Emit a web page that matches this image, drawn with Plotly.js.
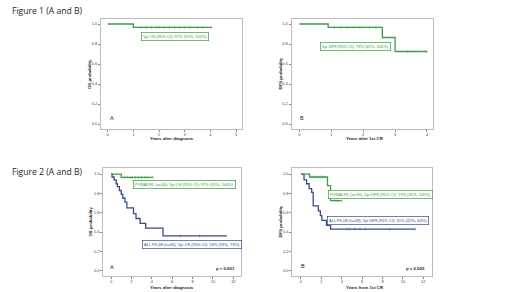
<!DOCTYPE html>
<html><head><meta charset="utf-8">
<script src="https://cdn.plot.ly/plotly-3.0.1.min.js"></script>
<style>html,body{margin:0;padding:0;background:#fff}#c{width:520px;height:292px}</style>
</head><body><div id="c"></div>
<script>
// ---- Data ----
// Figure 1A: OS, PONALFIL
const os1Times = [0, 1.0];
const os1Surv = [1.0, 0.967];
const os1End = 4.05;
const os1Cens = [1.3, 1.5, 1.7, 1.9, 2.0, 2.2, 2.4, 2.6, 2.8, 3.0, 3.2, 3.5, 3.7, 4.05];
// Figure 1B: DFS, PONALFIL
const dfs1Times = [0, 0.9, 2.6, 3.0];
const dfs1Surv = [1.0, 0.967, 0.865, 0.725];
const dfs1End = 4.0;
const dfs1Cens = [1.1, 1.3, 1.5, 1.7, 1.9, 2.0, 2.2, 2.4, 3.4, 4.0];
// Figure 2A: OS
const os2GreenTimes = [0, 1.0];
const os2GreenSurv = [1.0, 0.967];
const os2GreenEnd = 4.1;
const os2GreenCens = [1.3, 1.6, 1.9, 2.1, 2.4, 2.7, 3.0, 3.3, 3.6, 4.1];
const os2BlueTimes = [0, 0.1, 0.3, 0.5, 0.62, 0.82, 1.0, 1.15, 1.37, 1.55, 2.2, 2.45, 2.85, 3.4, 5.1];
const os2BlueSurv = [1.0, 0.97, 0.94, 0.90, 0.87, 0.83, 0.79, 0.75, 0.71, 0.65, 0.59, 0.54, 0.49, 0.44, 0.36];
const os2BlueEnd = 11.3;
const os2BlueCens = [6.8, 8.7, 11.3];
// Figure 2B: DFS
const dfs2GreenTimes = [0, 0.85, 2.6, 2.9];
const dfs2GreenSurv = [1.0, 0.97, 0.88, 0.725];
const dfs2GreenEnd = 4.0;
const dfs2GreenCens = [1.1, 1.3, 1.5, 1.7, 1.9, 2.1, 2.3, 3.3, 3.6, 4.0];
const dfs2BlueTimes = [0, 0.3, 0.55, 0.8, 1.05, 1.2, 1.7, 1.9, 2.05, 2.5, 2.9];
const dfs2BlueSurv = [1.0, 0.94, 0.90, 0.85, 0.81, 0.67, 0.62, 0.57, 0.52, 0.47, 0.43];
const dfs2BlueEnd = 11.2;
const dfs2BlueCens = [4.5, 4.8, 5.3, 5.8, 6.3, 8.7, 11.2];

const yTicks = [0.0, 0.2, 0.4, 0.6, 0.8, 1.0];
const xTicks1A = [0, 1, 2, 3, 4, 5];
const xTicks1B = [0, 1, 2, 3, 4];
const xTicks2 = [0, 2, 4, 6, 8, 10, 12];

const labels = {
  t1: 'Figure 1 (A and B)',
  t2: 'Figure 2 (A and B)',
  box1A: '5yr OS (95% CI): 97% (91%, 100%)',
  box1B: '5yr DFS (95% CI): 73% (41%, 100%)',
  box2AG: 'PONALFIL (n=30); 5yr OS (95% CI): 97% (91%, 100%)',
  box2AB: 'ALL Ph-08 (n=30); 5yr OS (95% CI): 53% (33%, 73%)',
  box2BG: 'PONALFIL (n=30); 5yr DFS (95% CI): 73% (41%, 100%)',
  box2BB: 'ALL Ph-08 (n=28); 5yr DFS (95% CI): 41% (22%, 64%)',
  p2A: 'p < 0.001', p2B: 'p = 0.005'
};

// ---- Styling ----
const GREEN = '#3e9b45', BLUE = '#3d4a86';
const W = 520, H = 292;
const PX = x => x / W, PY = y => 1 - y / H;

function stepTrace(times, surv, end, color, xa, ya) {
  const xs = times.concat([end]);
  const ys = surv.concat([surv[surv.length - 1]]);
  return {x: xs, y: ys, xaxis: xa, yaxis: ya, type: 'scatter', mode: 'lines',
    line: {shape: 'hv', color: color, width: 1.3}, hoverinfo: 'skip', showlegend: false};
}
function survAt(times, surv, t) {
  let s = surv[0];
  for (let i = 0; i < times.length; i++) if (times[i] <= t) s = surv[i];
  return s;
}
function censTrace(times, surv, cens, color, xa, ya) {
  return {x: cens, y: cens.map(t => survAt(times, surv, t)), xaxis: xa, yaxis: ya,
    type: 'scatter', mode: 'markers',
    marker: {symbol: 'line-ns', size: 2, line: {color: color, width: 0.5}},
    hoverinfo: 'skip', showlegend: false};
}

const data = [
  stepTrace(os1Times, os1Surv, os1End, GREEN, 'x', 'y'),
  censTrace(os1Times, os1Surv, os1Cens, GREEN, 'x', 'y'),
  stepTrace(dfs1Times, dfs1Surv, dfs1End, GREEN, 'x2', 'y2'),
  censTrace(dfs1Times, dfs1Surv, dfs1Cens, GREEN, 'x2', 'y2'),
  stepTrace(os2BlueTimes, os2BlueSurv, os2BlueEnd, BLUE, 'x3', 'y3'),
  censTrace(os2BlueTimes, os2BlueSurv, os2BlueCens, BLUE, 'x3', 'y3'),
  stepTrace(os2GreenTimes, os2GreenSurv, os2GreenEnd, GREEN, 'x3', 'y3'),
  censTrace(os2GreenTimes, os2GreenSurv, os2GreenCens, GREEN, 'x3', 'y3'),
  stepTrace(dfs2BlueTimes, dfs2BlueSurv, dfs2BlueEnd, BLUE, 'x4', 'y4'),
  censTrace(dfs2BlueTimes, dfs2BlueSurv, dfs2BlueCens, BLUE, 'x4', 'y4'),
  stepTrace(dfs2GreenTimes, dfs2GreenSurv, dfs2GreenEnd, GREEN, 'x4', 'y4'),
  censTrace(dfs2GreenTimes, dfs2GreenSurv, dfs2GreenCens, GREEN, 'x4', 'y4')
];

function xax(l, r, range, ticks, anchor) {
  return {domain: [PX(l), PX(r)], range: range, anchor: anchor, tickvals: ticks,
    ticktext: ticks.map(String), showgrid: false, zeroline: false, showline: true, mirror: true,
    linecolor: '#bdbdbd', linewidth: 1, ticks: 'outside', ticklen: 2, tickcolor: '#888',
    tickfont: {size: 4, color: '#444', family: 'Liberation Sans'}, fixedrange: true};
}
function yax(t, b, range, anchor) {
  return {domain: [PY(b), PY(t)], range: range, anchor: anchor, tickvals: yTicks,
    ticktext: yTicks.map(v => v.toFixed(1)), showgrid: false, zeroline: false, showline: true, mirror: true,
    linecolor: '#bdbdbd', linewidth: 1, ticks: 'outside', ticklen: 2, tickcolor: '#888',
    tickfont: {size: 4, color: '#444', family: 'Liberation Sans'}, fixedrange: true};
}

const FONT = 'Liberation Sans';
function ann(text, x, y, opts) {
  return Object.assign({text: text, x: PX(x), y: PY(y), xref: 'paper', yref: 'paper',
    showarrow: false, xanchor: 'center', yanchor: 'middle',
    font: {size: 4, color: '#333', family: FONT}}, opts || {});
}
function box(text, x, y, color) {
  return ann(text, x, y, {font: {size: 4, color: color, family: FONT},
    bordercolor: color, borderwidth: 0.7, borderpad: 1.3, bgcolor: '#fbfdfb'});
}

const TITLEFONT = {size: 8.6, color: '#1e1e1e', family: 'Open Sans'};
const AXT = {size: 4.3, color: '#222', family: FONT};
const annotations = [
  ann(labels.t1, 9.5, 11.5, {xanchor: 'left', font: TITLEFONT}),
  ann(labels.t2, 9.5, 171.5, {xanchor: 'left', font: TITLEFONT}),
  // axis titles
  ann('<b>Years after diagnosis</b>', 172, 138.5, {font: AXT}),
  ann('<b>OS probability</b>', 89, 74, {textangle: -90, font: AXT}),
  ann('<b>Years after 1st CR</b>', 365, 138.5, {font: AXT}),
  ann('<b>DFS probability</b>', 279.5, 74, {textangle: -90, font: AXT}),
  ann('<b>Years after diagnosis</b>', 172, 287.3, {font: AXT}),
  ann('<b>OS probability</b>', 90, 221.5, {textangle: -90, font: AXT}),
  ann('<b>Years from 1st CR</b>', 365, 287.3, {font: AXT}),
  ann('<b>DFS probability</b>', 280, 221.5, {textangle: -90, font: AXT}),
  // panel letters
  ann('A', 112.3, 118.3, {font: {size: 5.5, color: '#222', family: FONT}}),
  ann('B', 302.3, 117.5, {font: {size: 5.5, color: '#222', family: FONT}}),
  ann('A', 111.7, 267.3, {font: {size: 5.5, color: '#222', family: FONT}}),
  ann('B', 303, 265.5, {font: {size: 5.5, color: '#222', family: FONT}}),
  // p values
  ann('<b>' + labels.p2A + '</b>', 225, 268.3, {font: AXT}),
  ann('<b>' + labels.p2B + '</b>', 415, 268.3, {font: AXT}),
  // boxed labels
  box(labels.box1A, 174.5, 36.5, GREEN),
  box(labels.box1B, 355.5, 46.5, GREEN),
  box(labels.box2AG, 184, 184.7, GREEN),
  box(labels.box2AB, 191.7, 244.5, BLUE),
  box(labels.box2BG, 380, 194, GREEN),
  box(labels.box2BB, 378, 220, BLUE)
];

const layout = {
  width: W, height: H, margin: {l: 0, r: 0, t: 0, b: 0},
  paper_bgcolor: '#fff', plot_bgcolor: '#fff', showlegend: false,
  font: {family: FONT},
  xaxis: xax(101, 242, [-0.26, 5.23], xTicks1A, 'y'),
  yaxis: yax(18.5, 128.5, [-0.045, 1.055], 'x'),
  xaxis2: xax(291.5, 433, [-0.25, 4.19], xTicks1B, 'y2'),
  yaxis2: yax(18.5, 128.5, [-0.045, 1.055], 'x2'),
  xaxis3: xax(103.3, 241, [-0.76, 12.75], xTicks2, 'y3'),
  yaxis3: yax(168.3, 275.5, [-0.05, 1.06], 'x3'),
  xaxis4: xax(292.3, 431.7, [-0.85, 12.82], xTicks2, 'y4'),
  yaxis4: yax(168.3, 275.5, [-0.05, 1.06], 'x4'),
  annotations: annotations
};

Plotly.newPlot('c', data, layout, {staticPlot: true, displayModeBar: false});
</script></body></html>
